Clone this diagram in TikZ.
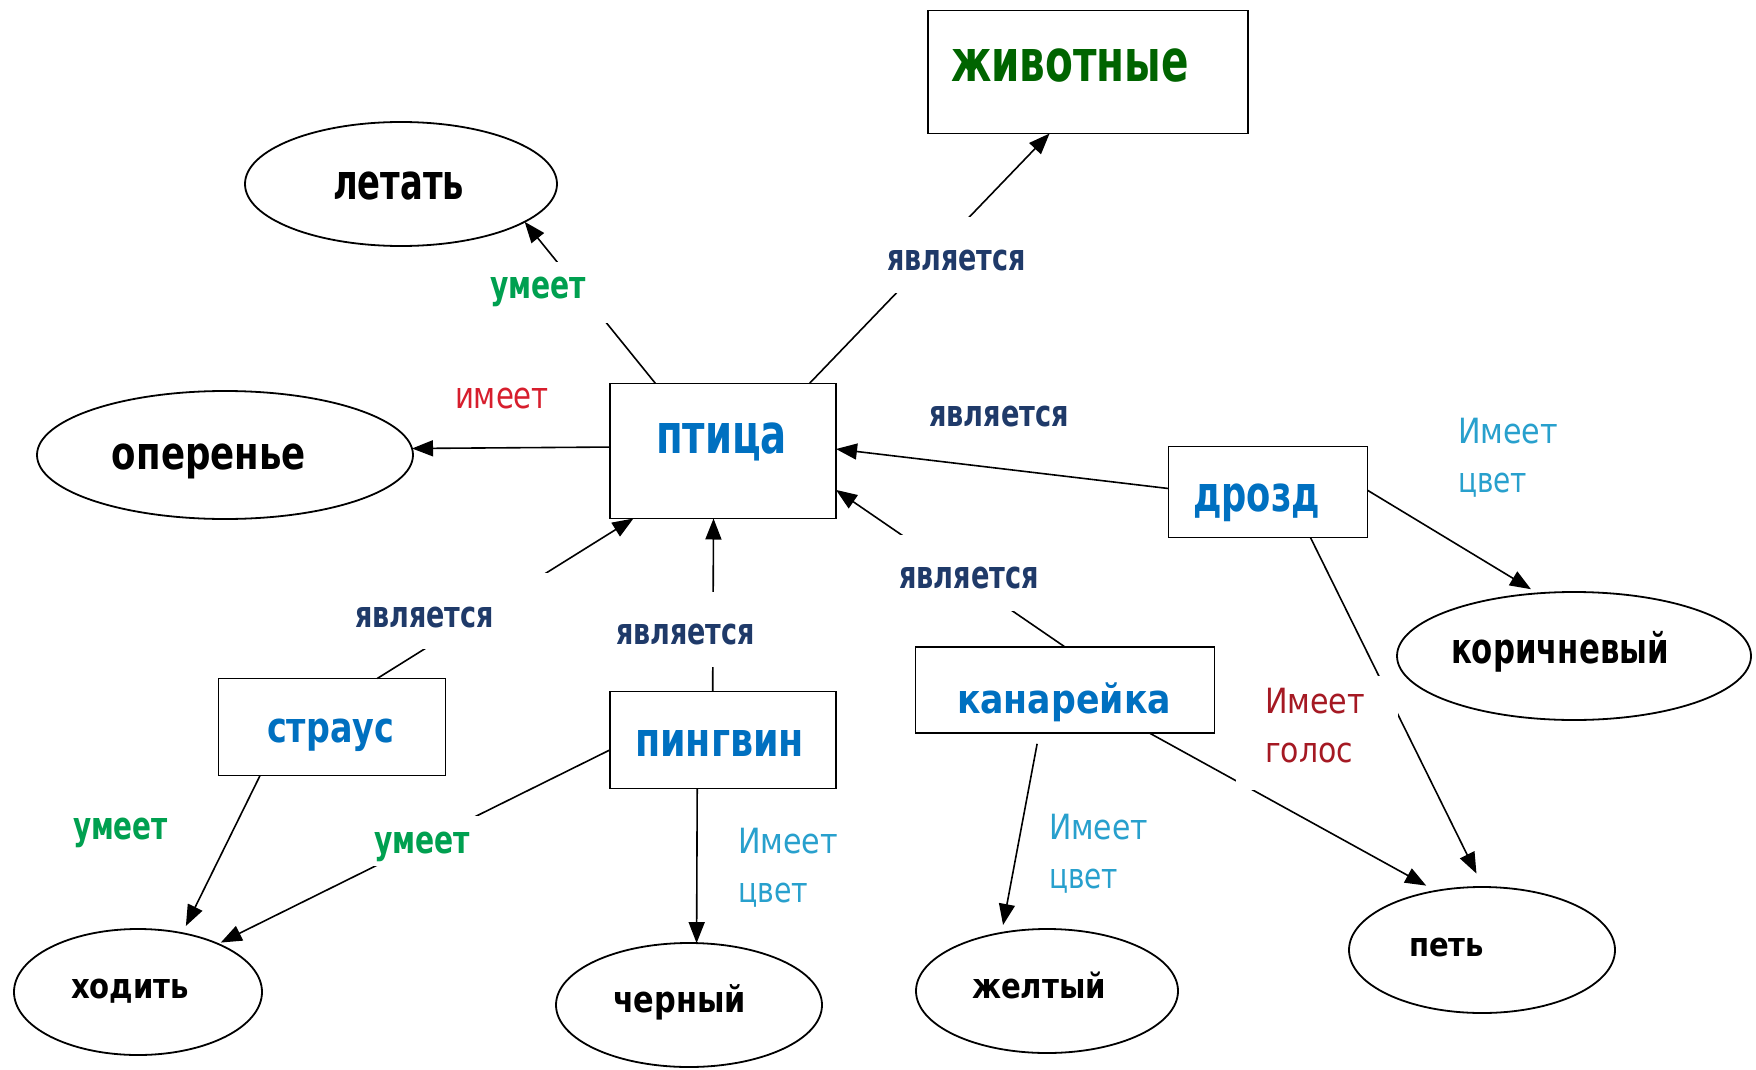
\documentclass[tikz,border=0pt]{standalone}
\usepackage{fontspec}
\setmainfont{DejaVu Sans}
\usetikzlibrary{shapes.geometric,arrows.meta}
\newlength\fitwd
\newlength\fitxh
% fit text: #1 target ink width (px), #2 target x-height (px), #3 text
\newcommand\fitt[3]{\settowidth\fitwd{#3}\settoheight\fitxh{x}%
  \pgfmathsetmacro\fitsx{0.5*#1/\fitwd}\pgfmathsetmacro\fitsy{0.5*#2/\fitxh}%
  \scalebox{\fitsx}[\fitsy]{#3}}
\newcommand\twoln[2]{\rlap{#1}\raisebox{-24.5pt}{#2}}
\definecolor{cblue}{RGB}{0,112,192}
\definecolor{cgreenD}{RGB}{0,100,0}
\definecolor{cnavy}{RGB}{31,58,105}
\definecolor{cgreen}{RGB}{0,160,80}
\definecolor{cred}{RGB}{215,30,45}
\definecolor{ccyan}{RGB}{40,160,205}
\definecolor{cdred}{RGB}{165,25,35}
\tikzset{
  box/.style={draw, line width=0.9pt, rectangle, inner sep=0pt, outer sep=0pt, fill=white},
  oval/.style={draw, line width=0.9pt, ellipse, inner sep=0pt, outer sep=0pt, fill=white},
  txt/.style={inner sep=0pt, outer sep=0pt, anchor=base west},
  bb/.style={txt, font=\bfseries},
  rr/.style={txt, font=\mdseries},
  conn/.style={line width=0.8pt, -{Triangle[length=10.5pt,width=8pt]}},
  mask/.style={fill=white}
}
\begin{document}
\begin{tikzpicture}[x=0.5pt,y=-0.5pt]
\fill[white] (0,0) rectangle (1756,1070);
\useasboundingbox (0,0) rectangle (1756,1070);

% shapes
\node[box, minimum width=160pt, minimum height=61.5pt] (zhiv) at (1088,72) {};
\node[oval, minimum width=156pt, minimum height=62pt] (letat) at (401,184) {};
\node[oval, minimum width=188pt, minimum height=64pt] (oper) at (225,455) {};
\node[box, minimum width=113pt, minimum height=67.5pt] (ptica) at (723,451) {};
\node[box, minimum width=99.5pt, minimum height=45.5pt] (drozd) at (1268,492) {};
\node[oval, minimum width=177pt, minimum height=64pt] (korich) at (1574,656) {};
\node[box, minimum width=113.5pt, minimum height=48.5pt] (straus) at (332,727) {};
\node[box, minimum width=113pt, minimum height=48.5pt] (pingv) at (723,740) {};
\node[box, minimum width=149.5pt, minimum height=43pt] (kanar) at (1065,690) {};
\node[oval, minimum width=124pt, minimum height=63pt] (khod) at (138,992) {};
\node[oval, minimum width=133pt, minimum height=62pt] (chern) at (689,1005) {};
\node[oval, minimum width=131pt, minimum height=62pt] (zhelt) at (1047,991) {};
\node[oval, minimum width=133pt, minimum height=63pt] (pet) at (1482,950) {};

% connectors
\draw[conn] (ptica.135) -- (letat.-17);
\draw[conn] (ptica.178) -- (oper.2);
\draw[conn] (ptica.38) -- (zhiv.-122);
\draw[conn] (drozd.178) -- (ptica.1);
\draw[conn, shorten >=4pt] (drozd.1) -- (korich.120);
\draw[conn, shorten >=7.5pt] (drozd.-47) -- (pet.89);
\draw[conn] (kanar.north) -- (ptica.-19);
\draw[conn] (straus.47) -- (ptica.-143);
\draw[conn] (pingv.102) -- (ptica.-98);
\draw[conn, shorten >=4pt] (straus.-146) -- (khod.53);
\draw[conn, shorten >=1.5pt] (pingv.185) -- (khod.31);
\draw[conn] (pingv.-118) -- (chern.83);
\draw[conn, shorten <=5.5pt, shorten >=4pt] (kanar.-121) -- (zhelt.128);
\draw[conn, shorten >=5.5pt] (kanar.-27) -- (pet.128);

% label backgrounds (gaps in the connectors)
\fill[mask] (480,262) rectangle (612,323);
\fill[mask] (880,217) rectangle (1040,293);
\fill[mask] (895,535) rectangle (1040,611);
\fill[mask] (350,573) rectangle (550,649);
\fill[mask] (610,592) rectangle (760,667);
\fill[mask] (365,816) rectangle (480,866);
\fill[mask] (1236,676) rectangle (1398,790);

% texts of the shapes
\node[bb, text=cgreenD] (t-zhiv) at (951,82) {\fitt{238}{32}{животные}};
\node[bb, text=cblue] (t-ptica) at (656,453) {\fitt{131}{30}{птица}};
\node[bb, text=cblue] (t-drozd) at (1193,511) {\fitt{127}{27}{дрозд}};
\node[bb, text=cblue] (t-straus) at (267,742) {\fitt{127}{23}{страус}};
\node[bb, text=cblue] (t-pingv) at (635,756) {\fitt{169}{26}{пингвин}};
\node[bb, text=cblue] (t-kanar) at (957,713) {\fitt{214}{22}{канарейка}};
\node[bb] (t-letat) at (333,199) {\fitt{131}{27}{летать}};
\node[bb] (t-oper) at (112,469) {\fitt{194}{25}{оперенье}};
\node[bb] (t-korich) at (1451,663) {\fitt{218}{23}{коричневый}};
\node[bb] (t-khod) at (71,998) {\fitt{118}{19}{ходить}};
\node[bb] (t-chern) at (613,1012) {\fitt{133}{20}{черный}};
\node[bb] (t-zhelt) at (972,998) {\fitt{134}{19}{желтый}};
\node[bb] (t-pet) at (1409,956) {\fitt{75}{18}{петь}};

% connector labels
\node[bb, text=cgreen] (l-umeet1) at (490,298) {\fitt{96}{21}{умеет}};
\node[rr, text=cred] (l-imeet) at (455,408) {\fitt{94}{20}{имеет}};
\node[bb, text=cnavy] (l-yav1) at (887,270) {\fitt{139}{20}{является}};
\node[bb, text=cnavy] (l-yav2) at (929,426) {\fitt{140}{20}{является}};
\node[bb, text=cnavy] (l-yav3) at (899,588) {\fitt{140}{21}{является}};
\node[bb, text=cnavy] (l-yav4) at (616,644) {\fitt{139}{20}{является}};
\node[bb, text=cnavy] (l-yav5) at (355,627) {\fitt{139}{20}{является}};
\node[bb, text=cgreen] (l-umeet2) at (73,839) {\fitt{95}{21}{умеет}};
\node[bb, text=cgreen] (l-umeet3) at (374,853) {\fitt{96}{21}{умеет}};
\node[rr, text=ccyan] (l-cvet1) at (1458,443) {\twoln{\fitt{100}{19}{Имеет}}{\fitt{69}{19}{цвет}}};
\node[rr, text=ccyan] (l-cvet2) at (738,853) {\twoln{\fitt{100}{19}{Имеет}}{\fitt{70}{19}{цвет}}};
\node[rr, text=ccyan] (l-cvet3) at (1049,839) {\twoln{\fitt{99}{19}{Имеет}}{\fitt{69}{19}{цвет}}};
\node[rr, text=cdred] (l-golos) at (1265,713) {\twoln{\fitt{100}{19}{Имеет}}{\fitt{88}{19}{голос}}};
\end{tikzpicture}
\end{document}
